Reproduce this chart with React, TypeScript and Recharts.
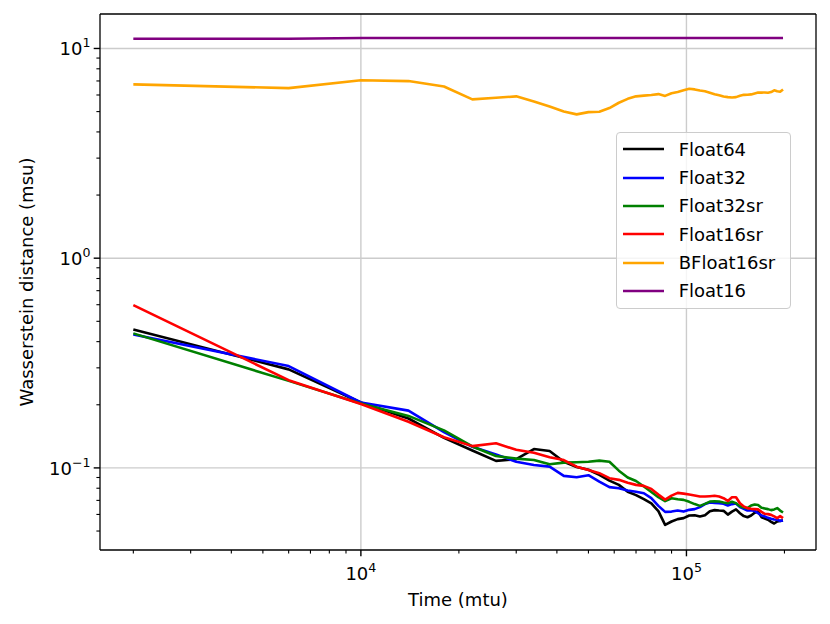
import React from "react";
import { LineChart, Line, XAxis, YAxis, ReferenceLine, Legend } from "recharts";

const FONT = "'DejaVu Sans', sans-serif";

// simulation time (mtu)
const times = [
  2000, 6000, 10000, 14000, 18000, 22000, 26000, 30000, 34000, 38000,
  42000, 46000, 50000, 54000, 58000, 62000, 66000, 70000, 74000, 78000,
  82000, 86000, 90000, 94000, 98000, 102000, 106000, 110000, 114000, 118000,
  122000, 126000, 130000, 134000, 138000, 142000, 146000, 150000, 154000, 158000,
  162000, 166000, 170000, 174000, 178000, 182000, 186000, 190000, 194000, 198000,
];

const float64 = [
  0.457, 0.295, 0.205, 0.172, 0.139, 0.121, 0.108, 0.11, 0.123, 0.1205,
  0.107, 0.101, 0.098, 0.0926, 0.087, 0.083, 0.077, 0.0742, 0.0709, 0.0677,
  0.0622, 0.0535, 0.0555, 0.057, 0.0576, 0.0593, 0.0595, 0.0587, 0.0595, 0.0622,
  0.0629, 0.0626, 0.0624, 0.0599, 0.0619, 0.0634, 0.0608, 0.0589, 0.0582, 0.0593,
  0.0611, 0.0619, 0.0582, 0.0574, 0.0566, 0.0553, 0.0543, 0.0555, 0.0559, 0.0561,
];

const float32 = [
  0.433, 0.306, 0.205, 0.1875, 0.148, 0.126, 0.116, 0.107, 0.1033, 0.1014,
  0.0916, 0.0903, 0.0923, 0.086, 0.081, 0.08, 0.078, 0.0769, 0.0757, 0.0717,
  0.0659, 0.0617, 0.0619, 0.0626, 0.0619, 0.0631, 0.0636, 0.065, 0.0672, 0.0684,
  0.0681, 0.0679, 0.0674, 0.0662, 0.0672, 0.0677, 0.065, 0.0638, 0.0626, 0.0629,
  0.0624, 0.0608, 0.0593, 0.0587, 0.0578, 0.0572, 0.0568, 0.0566, 0.0559, 0.0561,
];

const float32sr = [
  0.438, 0.26, 0.203, 0.177, 0.151, 0.1265, 0.114, 0.1107, 0.109, 0.104,
  0.106, 0.1064, 0.1069, 0.1083, 0.107, 0.097, 0.09, 0.0866, 0.0815, 0.0768,
  0.0725, 0.0694, 0.0717, 0.0709, 0.0704, 0.0689, 0.0672, 0.0659, 0.0674, 0.0691,
  0.0694, 0.0691, 0.0684, 0.0679, 0.0689, 0.0679, 0.0657, 0.0648, 0.0643, 0.0662,
  0.0669, 0.0665, 0.0646, 0.0641, 0.0636, 0.0629, 0.0634, 0.0643, 0.0626, 0.0613,
];

const float16sr = [
  0.597, 0.262, 0.2017, 0.166, 0.14, 0.127, 0.131, 0.122, 0.118, 0.1124,
  0.109, 0.1014, 0.0978, 0.0944, 0.0893, 0.0877, 0.085, 0.083, 0.0821, 0.0794,
  0.0746, 0.0706, 0.0738, 0.076, 0.0754, 0.0746, 0.0738, 0.073, 0.073, 0.0733,
  0.0736, 0.073, 0.0717, 0.0696, 0.0725, 0.0725, 0.0679, 0.0655, 0.0643, 0.0638,
  0.0636, 0.0634, 0.0617, 0.0604, 0.0602, 0.0597, 0.0587, 0.0576, 0.0589, 0.0576,
];

const bfloat16sr = [
  6.74, 6.47, 7.06, 6.99, 6.59, 5.72, 5.82, 5.91, 5.59, 5.29,
  5.01, 4.85, 4.97, 4.99, 5.2, 5.51, 5.75, 5.91, 5.96, 6.0,
  6.06, 5.94, 6.12, 6.2, 6.32, 6.43, 6.38, 6.3, 6.25, 6.15,
  6.05, 5.98, 5.9, 5.86, 5.84, 5.86, 5.95, 6.01, 6.02, 6.04,
  6.1, 6.16, 6.16, 6.17, 6.15, 6.2, 6.32, 6.25, 6.22, 6.38,
];

const float16 = [
  11.12, 11.12, 11.22, 11.22, 11.22, 11.22, 11.22, 11.22, 11.22, 11.22,
  11.22, 11.22, 11.22, 11.22, 11.22, 11.22, 11.22, 11.22, 11.22, 11.22,
  11.22, 11.22, 11.22, 11.22, 11.22, 11.22, 11.22, 11.22, 11.22, 11.22,
  11.22, 11.22, 11.22, 11.22, 11.22, 11.22, 11.22, 11.22, 11.22, 11.22,
  11.22, 11.22, 11.22, 11.22, 11.22, 11.22, 11.22, 11.22, 11.22, 11.22,
];

const series = [
  { key: "float64", name: "Float64", color: "#000000", values: float64 },
  { key: "float32", name: "Float32", color: "#0000ff", values: float32 },
  { key: "float32sr", name: "Float32sr", color: "#008000", values: float32sr },
  { key: "float16sr", name: "Float16sr", color: "#ff0000", values: float16sr },
  { key: "bfloat16sr", name: "BFloat16sr", color: "#ffa500", values: bfloat16sr },
  { key: "float16", name: "Float16", color: "#800080", values: float16 },
];

const xTicks = [
  2000, 3000, 4000, 5000, 6000, 7000, 8000, 9000, 10000,
  20000, 30000, 40000, 50000, 60000, 70000, 80000, 90000, 100000, 200000,
];
const yTicks = [
  0.05, 0.06, 0.07, 0.08, 0.09, 0.1, 0.2, 0.3, 0.4, 0.5, 0.6, 0.7, 0.8, 0.9,
  1, 2, 3, 4, 5, 6, 7, 8, 9, 10,
];
const xMajor = [10000, 100000];
const yMajor = [0.1, 1, 10];

const xDomain = [1580, 250000];
const yDomain = [0.0406, 14.6];

const data = times.map((t, i) => {
  const row: Record<string, number> = { t };
  series.forEach((s) => {
    row[s.key] = s.values[i];
  });
  return row;
});

const isMajor = (v: number) =>
  Math.abs(Math.log10(v) - Math.round(Math.log10(v))) < 1e-9;
const expText = (v: number) => {
  const e = Math.round(Math.log10(v));
  return e < 0 ? "\u2212" + -e : String(e);
};

function XTick(props: any) {
  const { x, y, payload } = props;
  const v = payload.value;
  const major = isMajor(v);
  return (
    <g>
      <line x1={x} x2={x} y1={y} y2={y + (major ? 6.3 : 3.6)} stroke="#000" strokeWidth={major ? 1.4 : 1.1} />
      {major && (
        <text x={x} y={y + 30} textAnchor="middle" fontSize={18} fontFamily={FONT} fill="#000">
          10
          <tspan dy={-8} fontSize={12.6}>
            {expText(v)}
          </tspan>
        </text>
      )}
    </g>
  );
}

function YTick(props: any) {
  const { x, y, payload } = props;
  const v = payload.value;
  const major = isMajor(v);
  return (
    <g>
      <line x1={x} x2={x - (major ? 6.3 : 3.6)} y1={y} y2={y} stroke="#000" strokeWidth={major ? 1.4 : 1.1} />
      {major && (
        <text x={x - 9.5} y={y + 7} textAnchor="end" fontSize={18} fontFamily={FONT} fill="#000">
          10
          <tspan dy={-8} fontSize={12.6}>
            {expText(v)}
          </tspan>
        </text>
      )}
    </g>
  );
}

function LegendBox() {
  return (
    <div
      style={{
        width: 175,
        height: 177,
        boxSizing: "border-box",
        border: "1.3px solid #cccccc",
        borderRadius: 4,
        background: "rgba(255,255,255,0.8)",
        padding: "2.5px 0 0 6px",
        fontFamily: FONT,
        fontSize: 18,
        color: "#000",
      }}
    >
      {series.map((s) => (
        <div key={s.key} style={{ display: "flex", alignItems: "center", height: 28.3 }}>
          <svg width={41} height={6} style={{ marginRight: 15, display: "block" }}>
            <line x1={0} x2={41} y1={3} y2={3} stroke={s.color} strokeWidth={2.7} />
          </svg>
          <span>{s.name}</span>
        </div>
      ))}
    </div>
  );
}

export default function App() {
  return (
    <div style={{ position: "absolute", left: 0, top: 0, background: "#fff" }}>
      <LineChart width={830} height={624} data={data} margin={{ top: 14, right: 14, bottom: 0, left: 0 }}>
        <XAxis
          dataKey="t"
          type="number"
          scale="log"
          domain={xDomain}
          allowDataOverflow
          ticks={xTicks}
          interval={0}
          height={74}
          tickSize={0}
          tickMargin={0}
          tickLine={false}
          tick={<XTick />}
          axisLine={{ stroke: "#000", strokeWidth: 1.3 }}
          label={{
            content: (p: any) => (
              <text
                x={p.viewBox.x + p.viewBox.width / 2}
                y={p.viewBox.y + 56}
                textAnchor="middle"
                fontSize={18}
                fontFamily={FONT}
                fill="#000"
              >
                Time (mtu)
              </text>
            ),
          }}
        />
        <YAxis
          type="number"
          scale="log"
          domain={yDomain}
          allowDataOverflow
          ticks={yTicks}
          interval={0}
          width={100}
          tickSize={0}
          tickMargin={0}
          tickLine={false}
          tick={<YTick />}
          axisLine={{ stroke: "#000", strokeWidth: 1.3 }}
          label={{
            content: (p: any) => {
              const cx = p.viewBox.x + 33;
              const cy = p.viewBox.y + p.viewBox.height / 2;
              return (
                <text
                  x={cx}
                  y={cy}
                  transform={`rotate(-90, ${cx}, ${cy})`}
                  textAnchor="middle"
                  fontSize={18}
                  fontFamily={FONT}
                  fill="#000"
                >
                  Wasserstein distance (msu)
                </text>
              );
            },
          }}
        />
        {xMajor.map((v) => (
          <ReferenceLine key={"gx" + v} x={v} stroke="#cccccc" strokeWidth={1.4} />
        ))}
        {yMajor.map((v) => (
          <ReferenceLine key={"gy" + v} y={v} stroke="#cccccc" strokeWidth={1.4} />
        ))}
        {series.map((s) => (
          <Line
            key={s.key}
            dataKey={s.key}
            name={s.name}
            type="linear"
            stroke={s.color}
            strokeWidth={2.6}
            strokeLinejoin="round"
            dot={false}
            activeDot={false}
            isAnimationActive={false}
          />
        ))}
        {/* top and right spines */}
        <ReferenceLine y={yDomain[1]} stroke="#000" strokeWidth={1.3} />
        <ReferenceLine x={xDomain[1]} stroke="#000" strokeWidth={1.3} />
        <Legend
          layout="vertical"
          align="center"
          verticalAlign="middle"
          wrapperStyle={{ left: 615.7, top: 131.7, width: 175 }}
          content={() => <LegendBox />}
        />
      </LineChart>
    </div>
  );
}
